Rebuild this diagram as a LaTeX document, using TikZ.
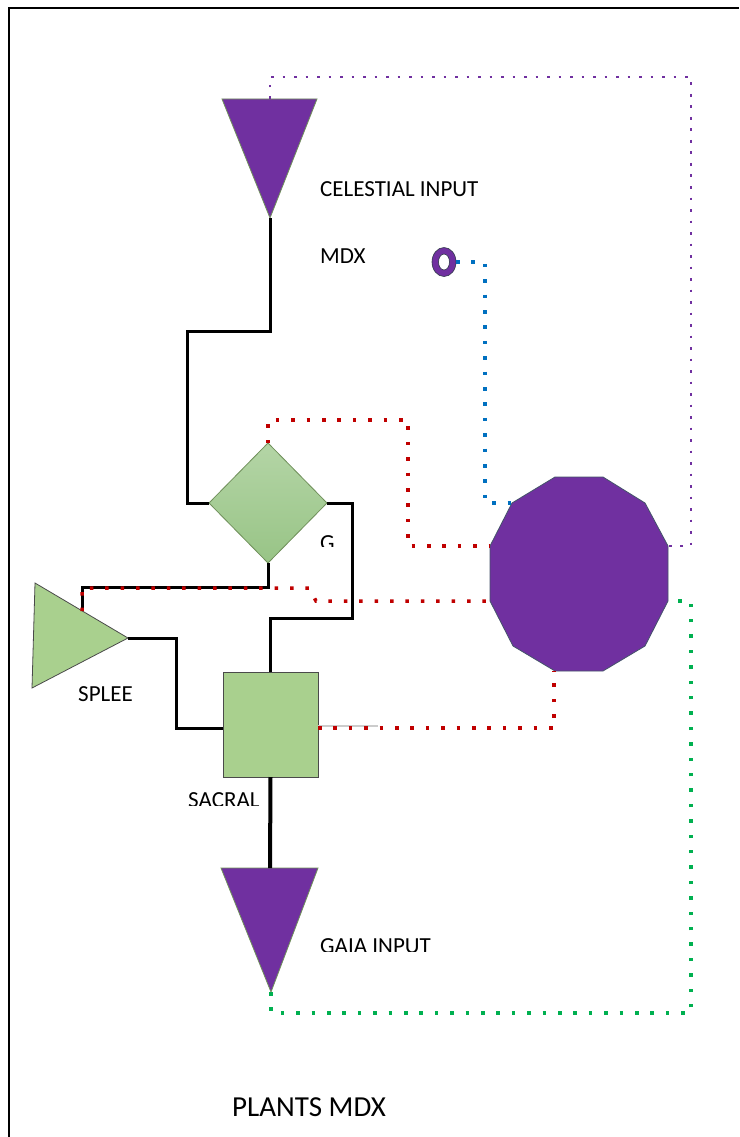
\documentclass[tikz,border=0pt]{standalone}
\usepackage{fontspec}
\setmainfont{Carlito}
\usetikzlibrary{shapes.geometric}
\definecolor{mpurple}{HTML}{7030A0}
\definecolor{mred}{HTML}{C00000}
\definecolor{mblue}{HTML}{0070C0}
\definecolor{mgreen}{HTML}{00B050}
\definecolor{lgreen}{HTML}{A9D08E}
\definecolor{dtop}{HTML}{B4D5A6}
\definecolor{dbot}{HTML}{98C486}
\definecolor{edgegreen}{HTML}{6F8F5A}
\definecolor{edgegray}{HTML}{4A4A4A}
\definecolor{edgeblue}{HTML}{44546A}
\begin{document}
\begin{tikzpicture}[x=1pt,y=-1pt,
  wire/.style={draw=black, line width=3pt},
  reddots/.style={draw=mred, line width=3.5pt, dash pattern=on 3.5pt off 11.9pt},
  bluedots/.style={draw=mblue, line width=3.5pt, dash pattern=on 3.5pt off 11.9pt},
  greendots/.style={draw=mgreen, line width=3.5pt, dash pattern=on 3.5pt off 11.9pt},
  purpledots/.style={draw=mpurple, line width=2.8pt, dash pattern=on 2.8pt off 8.7pt},
  lbl/.style={inner sep=0, anchor=base west, font=\fontsize{23}{27}\selectfont},
  purpleshape/.style={fill=mpurple, draw=edgegreen, line width=0.8pt},
  greenshape/.style={fill=lgreen, draw=edgegray, line width=0.8pt}]
\useasboundingbox (0,0) rectangle (739,1137);
\fill[white] (0,0) rectangle (739,1137);
% frame
\draw[black, line width=2pt] (9,1137) -- (9,8) -- (739,8);

% named points
\coordinate (celTop) at (270,99);
\coordinate (celApex) at (270,218);
\coordinate (splApex) at (128,638);
\coordinate (splTop) at (82,611);
\coordinate (sqL) at (222.5,728);
\coordinate (sqR) at (318,728);
\coordinate (gaiaTop) at (270,868);
\coordinate (gaiaApex) at (271,992);
\coordinate (ringR) at (456,262);
\coordinate (dodNW) at (512,503);
\coordinate (dodW1) at (490,546);
\coordinate (dodW2) at (490,601);
\coordinate (dodE1) at (668,546);
\coordinate (dodE2) at (668,601);
\coordinate (dodS) at (554,671);

% shapes
\path[purpleshape] (222,99) -- (317,99) -- (celApex) -- cycle;
\path[purpleshape] (221,868) -- (318,868) -- (gaiaApex) -- cycle;
\path[greenshape] (35,583) -- (splApex) -- (32,688) -- cycle;
\node[diamond, minimum width=118pt, minimum height=120pt, inner sep=0, outer sep=0,
  top color=dtop, bottom color=dbot, draw=edgegreen, line width=0.8pt] (G) at (268,503) {};
\node[rectangle, minimum width=95pt, minimum height=105pt, inner sep=0, outer sep=0,
  greenshape] (S) at (270.5,724.5) {};
\path[fill=mpurple, draw=edgeblue, line width=0.8pt]
  (555,477) -- (603,477) -- (645,503) -- (dodE1) -- (dodE2) -- (645,646) --
  (603,671) -- (555,671) -- (513,646) -- (dodW2) -- (dodW1) -- (dodNW) -- cycle;
\node[inner sep=0] (dod) at (579,574) {};
% MDX ring
\path[fill=mpurple, even odd rule, draw=edgeblue!70!black, line width=0.6pt]
  (444,262) ellipse (12 and 14.5) (444,262) ellipse (5.5 and 8);
\node[inner sep=0] (ring) at (444,262) {};

% black wires
\draw[wire] (celApex) -- (270,331) -- (187,331) |- (G.west);
\draw[wire] (G.east) -- (352,503) -- (352,618) -| (S.north);
\draw[wire] (G.south) -- (268,587) -| (splTop);
\draw[wire] (splApex) -- (176,638) |- (sqL);
\draw[black, line width=4pt] (S.south) -- (gaiaTop);
\draw[black!20, line width=1.5pt] (sqR) ++(0,-2) -- ++(60,0);

% dotted connectors
\draw[reddots] (G.north) -- (268,420) -- (408,420) -- (408,546) -- (dodW1);
\draw[reddots] (splTop) -- (82,588) -- (309,588) -- (316,601) -- (dodW2);
\draw[reddots] (sqR) -- (554,728) -- (dodS);
\draw[bluedots] (ringR) -- (485,262) -- (485,503) -- (dodNW);
\draw[purpledots] (celTop) -- (270,77) -- (691,77) -- (691,546) -- (dodE1);
\draw[greendots] (gaiaApex) -- (271,1013) -- (691,1013) -- (691,601) -- (dodE2);

% labels
\node[lbl] (tcel) at (320,196) {CELESTIAL INPUT};
\node[lbl] (tmdx) at (320,263) {MDX};
\node[lbl] (tsplee) at (78,701) {SPLEE};
\begin{scope}
  \clip (300,520) rectangle (360,546);
  \node[lbl] (tg) at (320,550) {G};
\end{scope}
\begin{scope}
  \clip (180,780) rectangle (265,805);
  \node[lbl] (tsacral) at (188,807) {SACRAL};
\end{scope}
\begin{scope}
  \clip (310,925) rectangle (460,951);
  \node[lbl] (tgaia) at (320,953) {GAIA INPUT};
\end{scope}
\node[inner sep=0, anchor=base west, font=\fontsize{29}{34}\selectfont] (tplants) at (232,1116) {PLANTS MDX};
\end{tikzpicture}
\end{document}
